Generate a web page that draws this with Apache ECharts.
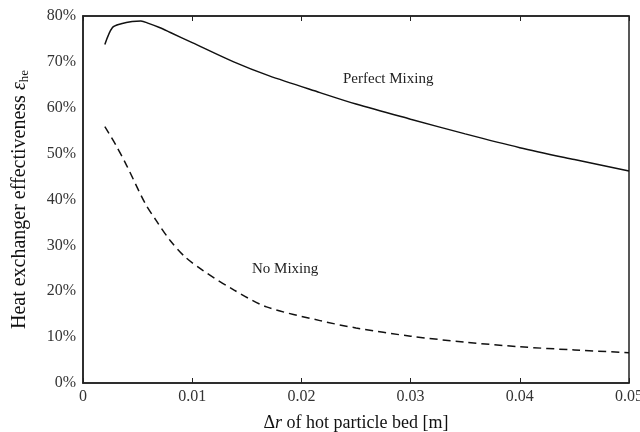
<!DOCTYPE html>
<html>
<head>
    <meta charset="utf-8">
    <title>Heat exchanger effectiveness</title>
    <script src="https://cdn.jsdelivr.net/npm/echarts@6/dist/echarts.min.js"></script>
    <style>
        * {
            margin: 0;
            padding: 0
        }

        html, body {
            width: 100%;
            height: 100%;
            background: #fff;
        }

        #main {
            width: 640px;
            height: 432px;
        }
    </style>
</head>
<body>
<div id="main"></div>
<script type="text/javascript">
    // 数据（从图上读出来的）
    var perfectX = [0.002, 0.0027, 0.0035, 0.0045, 0.0053, 0.006, 0.007, 0.008, 0.010, 0.0138, 0.017, 0.0217, 0.025, 0.030, 0.035, 0.040, 0.045, 0.050];
    var perfectY = [73.8, 77.5, 78.3, 78.8, 78.9, 78.4, 77.5, 76.4, 74.2, 70.0, 67.0, 63.3, 60.8, 57.5, 54.3, 51.3, 48.7, 46.2];

    var noMixX = [0.002, 0.003, 0.004, 0.00568, 0.00668, 0.008, 0.00934, 0.011, 0.0138, 0.0168, 0.0217, 0.025, 0.030, 0.035, 0.040, 0.045, 0.050];
    var noMixY = [55.9, 51.9, 47.4, 39.2, 35.5, 31.0, 27.5, 24.5, 20.3, 16.6, 13.6, 12.0, 10.2, 8.9, 7.9, 7.2, 6.6];

    var xTicks = [0, 0.01, 0.02, 0.03, 0.04, 0.05];
    var yTicks = [0, 10, 20, 30, 40, 50, 60, 70, 80];

    function pairs(xs, ys) {
        return xs.map(function (x, i) {
            return [x, ys[i]];
        });
    }

    var serif = 'Liberation Serif';
    var axisColor = '#222';

    var chart = echarts.init(document.getElementById('main'));
    chart.setOption({
        animation: false,
        textStyle: {fontFamily: serif},
        grid: {
            left: 83,
            right: 11,
            top: 16,
            bottom: 49,
            outerBoundsMode: 'none',
            show: true,
            borderColor: axisColor,
            borderWidth: 1.5,
            backgroundColor: 'transparent'
        },
        xAxis: [
            {
                type: 'value',
                min: xTicks[0],
                max: xTicks[xTicks.length - 1],
                interval: 0.01,
                name: '{d|Δ}{i|r}{d| of hot particle bed [m]}',
                nameLocation: 'middle',
                nameGap: 31,
                nameTextStyle: {
                    rich: {
                        d: {fontFamily: serif, fontSize: 18, color: '#111'},
                        i: {fontFamily: serif, fontSize: 18, fontStyle: 'italic', color: '#111'}
                    }
                },
                axisLine: {show: true, lineStyle: {color: axisColor, width: 1.5}},
                axisTick: {show: true, inside: true, length: 5, lineStyle: {color: axisColor}},
                axisLabel: {
                    fontFamily: serif, fontSize: 16, color: '#333', margin: 6,
                    formatter: function (v) {
                        return String(+v.toFixed(2));
                    }
                },
                splitLine: {show: false}
            },
            {
                type: 'value',
                position: 'top',
                min: xTicks[0],
                max: xTicks[xTicks.length - 1],
                interval: 0.01,
                axisLine: {show: true, onZero: false, lineStyle: {color: axisColor, width: 1.5}},
                axisTick: {show: true, inside: true, length: 5, lineStyle: {color: axisColor}},
                axisLabel: {show: false},
                splitLine: {show: false}
            }
        ],
        yAxis: [
            {
                type: 'value',
                min: yTicks[0],
                max: yTicks[yTicks.length - 1],
                interval: 10,
                name: '{d|Heat exchanger effectiveness }{e|ε}{s|he}',
                nameLocation: 'middle',
                nameGap: 52,
                nameTextStyle: {
                    rich: {
                        d: {fontFamily: serif, fontSize: 20, color: '#111'},
                        e: {fontFamily: serif, fontSize: 20, fontStyle: 'italic', color: '#111'},
                        s: {fontFamily: serif, fontSize: 13, color: '#111', padding: [9, 0, 0, 0]}
                    }
                },
                axisLine: {show: true, lineStyle: {color: axisColor, width: 1.5}},
                axisTick: {show: false},
                axisLabel: {
                    fontFamily: serif, fontSize: 16, color: '#333', margin: 7,
                    formatter: '{value}%'
                },
                splitLine: {show: false}
            }
        ],
        graphic: [
            {
                type: 'text',
                left: 343,
                top: 72,
                style: {text: 'Perfect Mixing', font: '15px "Liberation Serif"', fill: '#222'}
            },
            {
                type: 'text',
                left: 252,
                top: 262,
                style: {text: 'No Mixing', font: '15px "Liberation Serif"', fill: '#222'}
            }
        ],
        series: [
            {
                name: 'Perfect Mixing',
                type: 'line',
                data: pairs(perfectX, perfectY),
                smooth: 0.3,
                symbol: 'none',
                lineStyle: {color: '#111', width: 1.5}
            },
            {
                name: 'No Mixing',
                type: 'line',
                data: pairs(noMixX, noMixY),
                smooth: 0.3,
                symbol: 'none',
                lineStyle: {color: '#111', width: 1.5, type: [8, 5]}
            }
        ]
    });
</script>
</body>
</html>
